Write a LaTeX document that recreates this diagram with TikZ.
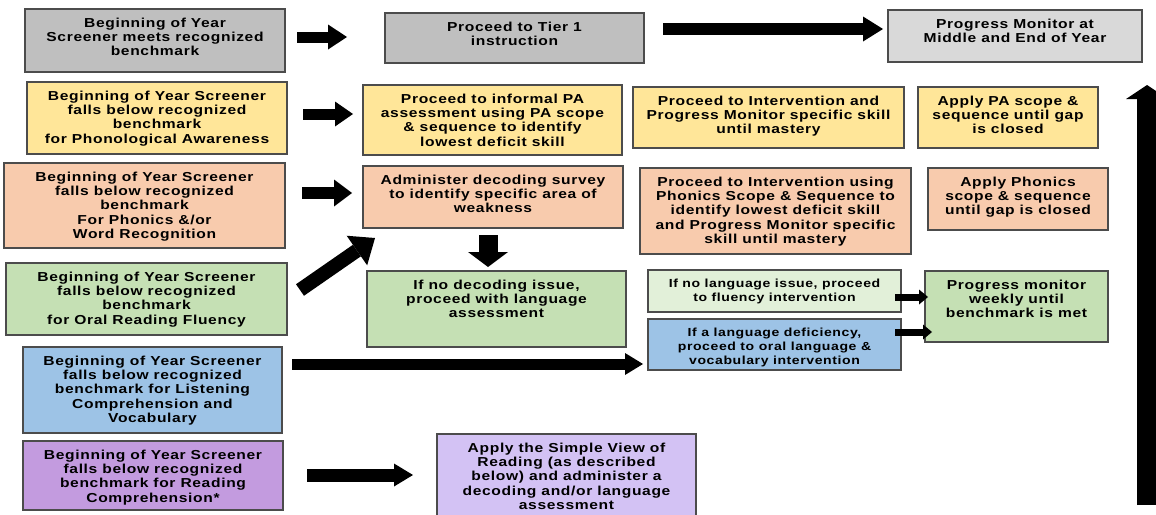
\documentclass[tikz,border=0pt]{standalone}
\usepackage{fontspec}
\setmainfont{Liberation Sans}[FakeStretch=1.2,LetterSpace=5]
\usetikzlibrary{arrows.meta,calc}
\definecolor{cgray}{HTML}{BFBFBF}
\definecolor{clgray}{HTML}{D9D9D9}
\definecolor{cyel}{HTML}{FFE699}
\definecolor{csal}{HTML}{F8CBAD}
\definecolor{cgrn}{HTML}{C5E0B4}
\definecolor{clgrn}{HTML}{E2F0D9}
\definecolor{cblu}{HTML}{9DC3E6}
\definecolor{cpur}{HTML}{C39BDF}
\definecolor{clav}{HTML}{D3C2F4}
\newcommand\mybox[8]{%
  \node[box, fill=#2, minimum width={#5-#3}, minimum height={#6-#4}] (#1) at (#3,#4) {};
  \node[#7] (#1t) at ($(#1.north)+(0,8.5)$) {#8};
}
\begin{document}
\begin{tikzpicture}[x=1pt,y=-1pt,
  box/.style={draw=black!70, line width=1.2pt, inner sep=0pt, outer sep=0pt, anchor=north west},
  txt/.style={anchor=north, inner sep=0pt, align=center, font=\fontsize{13}{14.3}\selectfont\bfseries},
  stxt/.style={anchor=north, inner sep=0pt, align=center, font=\fontsize{11.7}{14.3}\selectfont\bfseries},
  blk/.style n args={3}{line width=#1, -{Triangle[length=#2,width=#3,line width=0pt]}},
]
\useasboundingbox (0,0) rectangle (1156,514);
\clip (0,0) rectangle (1156,514);
% row 1
\mybox{a1}{cgray}{25}{9}{285}{72}{txt}{Beginning of Year\\Screener meets recognized\\benchmark}
\mybox{a2}{cgray}{385}{13}{644}{63}{txt}{Proceed to Tier 1\\instruction}
\mybox{a3}{clgray}{888}{10}{1142}{62}{txt}{Progress Monitor at\\Middle and End of Year}
% row 2
\mybox{b1}{cyel}{27}{82}{287}{154}{txt}{Beginning of Year Screener\\falls below recognized\\benchmark\\for Phonological Awareness}
\mybox{b2}{cyel}{363}{85}{622}{155}{txt}{Proceed to informal PA\\assessment using PA scope\\\& sequence to identify\\lowest deficit skill}
\mybox{b3}{cyel}{633}{87}{904}{148}{txt}{Proceed to Intervention and\\Progress Monitor specific skill\\until mastery}
\mybox{b4}{cyel}{918}{87}{1098}{148}{txt}{Apply PA scope \&\\sequence until gap\\is closed}
% row 3
\mybox{c1}{csal}{4}{163}{285}{248}{txt}{Beginning of Year Screener\\falls below recognized\\benchmark\\For Phonics \&/or\\Word Recognition}
\mybox{c2}{csal}{363}{166}{623}{228}{txt}{Administer decoding survey\\to identify specific area of\\weakness}
\mybox{c3}{csal}{640}{168}{911}{254}{txt}{Proceed to Intervention using\\Phonics Scope \& Sequence to\\identify lowest deficit skill\\and Progress Monitor specific\\skill until mastery}
\mybox{c4}{csal}{928}{168}{1108}{230}{txt}{Apply Phonics\\scope \& sequence\\until gap is closed}
% row 4
\mybox{d1}{cgrn}{6}{263}{287}{335}{txt}{Beginning of Year Screener\\falls below recognized\\benchmark\\for Oral Reading Fluency}
\mybox{d2}{cgrn}{367}{271}{626}{347}{txt}{If no decoding issue,\\proceed with language\\assessment}
\mybox{d3}{clgrn}{648}{270}{901}{312}{stxt}{If no language issue, proceed\\to fluency intervention}
\mybox{d4}{cblu}{648}{319}{901}{370}{stxt}{If a language deficiency,\\proceed to oral language \&\\vocabulary intervention}
\mybox{d5}{cgrn}{925}{271}{1108}{342}{txt}{Progress monitor\\weekly until\\benchmark is met}
% rows 5-6
\mybox{e1}{cblu}{23}{347}{282}{433}{txt}{Beginning of Year Screener\\falls below recognized\\benchmark for Listening\\Comprehension and\\Vocabulary}
\mybox{f1}{cpur}{23}{441}{283}{510}{txt}{Beginning of Year Screener\\falls below recognized\\benchmark for Reading\\Comprehension*}
\mybox{f2}{clav}{437}{434}{696}{520}{txt}{Apply the Simple View of\\Reading (as described\\below) and administer a\\decoding and/or language\\assessment}
% connectors
\draw[blk={11pt}{19pt}{25pt}] ($(a1.east)+(12,-3.5)$) -- ($(a2.west)+(-38,-1)$);
\draw[blk={12pt}{20pt}{25pt}] ($(a2.east)+(19,-9)$) -- ($(a3.west)+(-5,-7)$);
\draw[blk={11pt}{18pt}{25pt}] ($(b1.east)+(16,-4)$) -- ($(b2.west)+(-10,-6)$);
\draw[blk={12pt}{18pt}{27pt}] ($(c1.east)+(17,-12.5)$) -- ($(c2.west)+(-11,-4)$);
\draw[blk={14pt}{22pt}{36pt}] ($(d1.east)+(13,-9)$) -- ($(c2.south west)+(12,10)$);
\draw[blk={19pt}{15pt}{40pt}] ($(c2.south)+(-5,7)$) -- ($(d2.north)+(-8.5,-4)$);
\draw[blk={11pt}{18pt}{22pt}] ($(e1.east)+(10,-26)$) -- ($(d4.west)+(-5,19.5)$);
\draw[blk={7pt}{9pt}{15pt}] ($(d3.east)+(-6,6)$) -- ($(d5.west)+(3,-9.5)$);
\draw[blk={7pt}{9pt}{15pt}] ($(d4.east)+(-6,-12.5)$) -- ($(d5.west)+(7,25.5)$);
\draw[blk={13pt}{19pt}{23pt}] ($(f1.east)+(24,-0.5)$) -- ($(f2.west)+(-24,-2)$);
\coordinate (vb) at (1147,505);
\coordinate (vt) at (1147,85);
\draw[blk={20pt}{14pt}{42pt}] (vb) -- (vt);
\end{tikzpicture}
\end{document}
